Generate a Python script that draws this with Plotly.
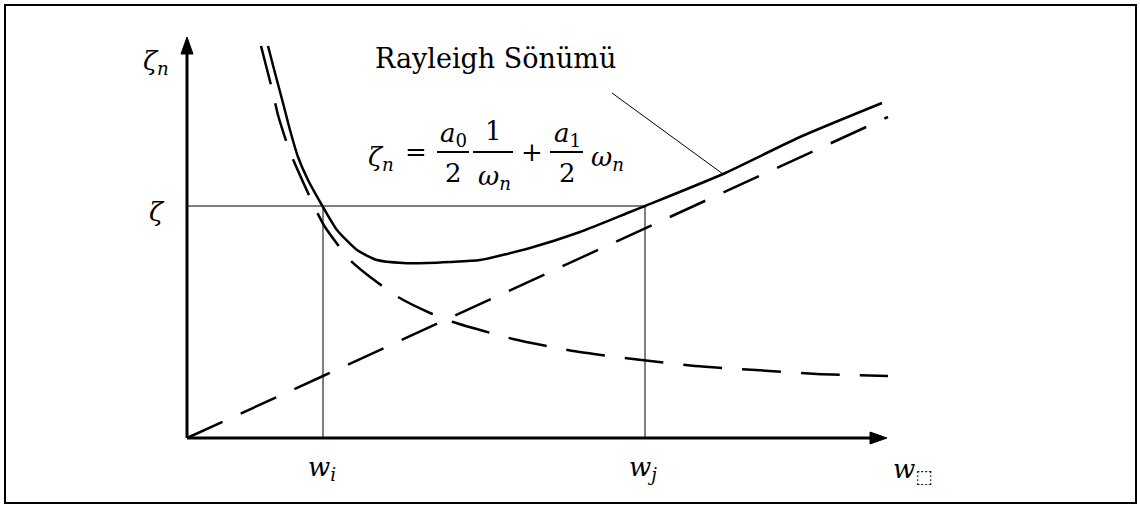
import plotly.graph_objects as go

W, H = 1140, 508

# Total Rayleigh damping ratio versus circular frequency
omega_sum = [0.81, 0.88, 0.96, 1.03, 1.11, 1.21, 1.36, 1.50, 1.70, 1.90, 2.16, 2.40,
             2.63, 2.93, 3.43, 3.93, 4.43, 4.58, 5.36, 6.13, 6.95]
zeta_sum = [3.92, 3.65, 3.35, 3.08, 2.81, 2.58, 2.31, 2.08, 1.88, 1.78, 1.75, 1.75,
            1.76, 1.78, 1.90, 2.06, 2.26, 2.32, 2.64, 3.01, 3.35]

# Mass-proportional part (a0 / 2ω)
omega_mass = [0.74, 0.86, 0.91, 1.03, 1.28, 1.38, 1.63, 1.78, 2.11, 2.43, 2.66, 3.26,
              3.86, 4.46, 5.08, 5.69, 6.30, 7.01]
zeta_mass = [3.92, 3.45, 3.23, 2.86, 2.30, 2.11, 1.78, 1.65, 1.41, 1.25, 1.16, 0.99,
             0.87, 0.79, 0.72, 0.68, 0.64, 0.62]

# Stiffness-proportional part (a1 ω / 2)
omega_stiff = [0.0, 1.36, 7.01]
zeta_stiff = [0.0, 0.62, 3.21]

# Chosen frequencies and target damping ratio
omega_i, omega_j, zeta_target = 1.36, 4.58, 2.32
x_axis_end, y_axis_end = 7.00, 4.01

# Axis units: origin 187 px from the left, 438 px from the top, 100 px per unit
X0, Y0, S = 187, 438, 100
x_range = [-X0 / S, (W - X0) / S]
y_range = [(Y0 - H) / S, Y0 / S]


def paper(px, py):
    return px / W, 1 - py / H


DASH = "39px,20px"
FONT = "DejaVu Serif"

fig = go.Figure()

# guide lines at ζ, ω_i and ω_j
thin = dict(color="black", width=1)
fig.add_trace(go.Scatter(x=[0, omega_j], y=[zeta_target, zeta_target], mode="lines", line=thin))
fig.add_trace(go.Scatter(x=[omega_i, omega_i], y=[0, zeta_target], mode="lines", line=thin))
fig.add_trace(go.Scatter(x=[omega_j, omega_j], y=[0, zeta_target], mode="lines", line=thin))

# curves
fig.add_trace(go.Scatter(x=omega_mass, y=zeta_mass, mode="lines",
                         line=dict(color="black", width=2.5, dash=DASH, shape="spline",
                                   smoothing=0.6)))
fig.add_trace(go.Scatter(x=omega_stiff, y=zeta_stiff, mode="lines",
                         line=dict(color="black", width=2.5, dash=DASH)))
fig.add_trace(go.Scatter(x=omega_sum, y=zeta_sum, mode="lines",
                         line=dict(color="black", width=2.5, shape="spline", smoothing=0.6)))

# leader from the label to the total curve
fig.add_trace(go.Scatter(x=[4.25, 5.36], y=[3.45, 2.64], mode="lines", line=dict(color="black", width=1)))

# axes with arrowheads
head_len, head_half = 0.17, 0.06
fig.add_trace(go.Scatter(x=[0, x_axis_end - head_len], y=[0, 0], mode="lines",
                         line=dict(color="black", width=3)))
fig.add_trace(go.Scatter(x=[0, 0], y=[0, y_axis_end - head_len], mode="lines",
                         line=dict(color="black", width=3)))
fig.add_trace(go.Scatter(x=[x_axis_end, x_axis_end - head_len, x_axis_end - head_len, x_axis_end],
                         y=[0, head_half, -head_half, 0], mode="lines", fill="toself",
                         fillcolor="black", line=dict(color="black", width=1)))
fig.add_trace(go.Scatter(x=[0, head_half, -head_half, 0],
                         y=[y_axis_end, y_axis_end - head_len, y_axis_end - head_len, y_axis_end],
                         mode="lines", fill="toself", fillcolor="black",
                         line=dict(color="black", width=1)))

annotations = []


def label(text, px, py, size=26):
    x, y = paper(px, py)
    annotations.append(dict(text=text, x=x, y=y, xref="paper", yref="paper",
                            xanchor="center", yanchor="middle", showarrow=False,
                            font=dict(family=FONT, size=size, color="black")))


label("<i>ζ</i><sub><i>n</i></sub>", 156, 62)
label("<i>ζ</i>", 157, 212)
label("<i>w</i><sub><i>i</i></sub>", 322, 468)
label("<i>w</i><sub><i>j</i></sub>", 643, 468)
label("<i>w</i><sub>⬚</sub>", 912, 470)
label("Rayleigh Sönümü", 495, 58, size=27)

# equation ζ_n = a0/2 · 1/ω_n + a1/2 · ω_n
label("<i>ζ</i><sub><i>n</i></sub>", 381, 158)
label("=", 416, 152)
label("<i>a</i><sub>0</sub>", 453, 134)
label("2", 453, 173)
label("1", 493, 131)
label("<i>ω</i><sub><i>n</i></sub>", 494, 177)
label("+", 532, 152)
label("<i>a</i><sub>1</sub>", 567, 134)
label("2", 567, 173)
label("<i>ω</i><sub><i>n</i></sub>", 607, 158)

shapes = []
for x1, x2 in [(437, 469), (473, 513), (550, 583)]:
    a, b = paper(x1, 152)
    c, d = paper(x2, 152)
    shapes.append(dict(type="line", xref="paper", yref="paper", x0=a, y0=b, x1=c, y1=d,
                       line=dict(color="black", width=2)))

# outer frame
fx0, fy0 = paper(5, 5)
fx1, fy1 = paper(1136, 503)
shapes.append(dict(type="rect", xref="paper", yref="paper", x0=fx0, y0=fy1, x1=fx1, y1=fy0,
                   line=dict(color="black", width=2)))

fig.update_layout(
    width=W, height=H,
    margin=dict(l=0, r=0, t=0, b=0),
    paper_bgcolor="white", plot_bgcolor="white",
    showlegend=False,
    xaxis=dict(range=x_range, visible=False, fixedrange=True),
    yaxis=dict(range=y_range, visible=False, fixedrange=True),
    annotations=annotations,
    shapes=shapes,
)

fig.write_html("out.html")
